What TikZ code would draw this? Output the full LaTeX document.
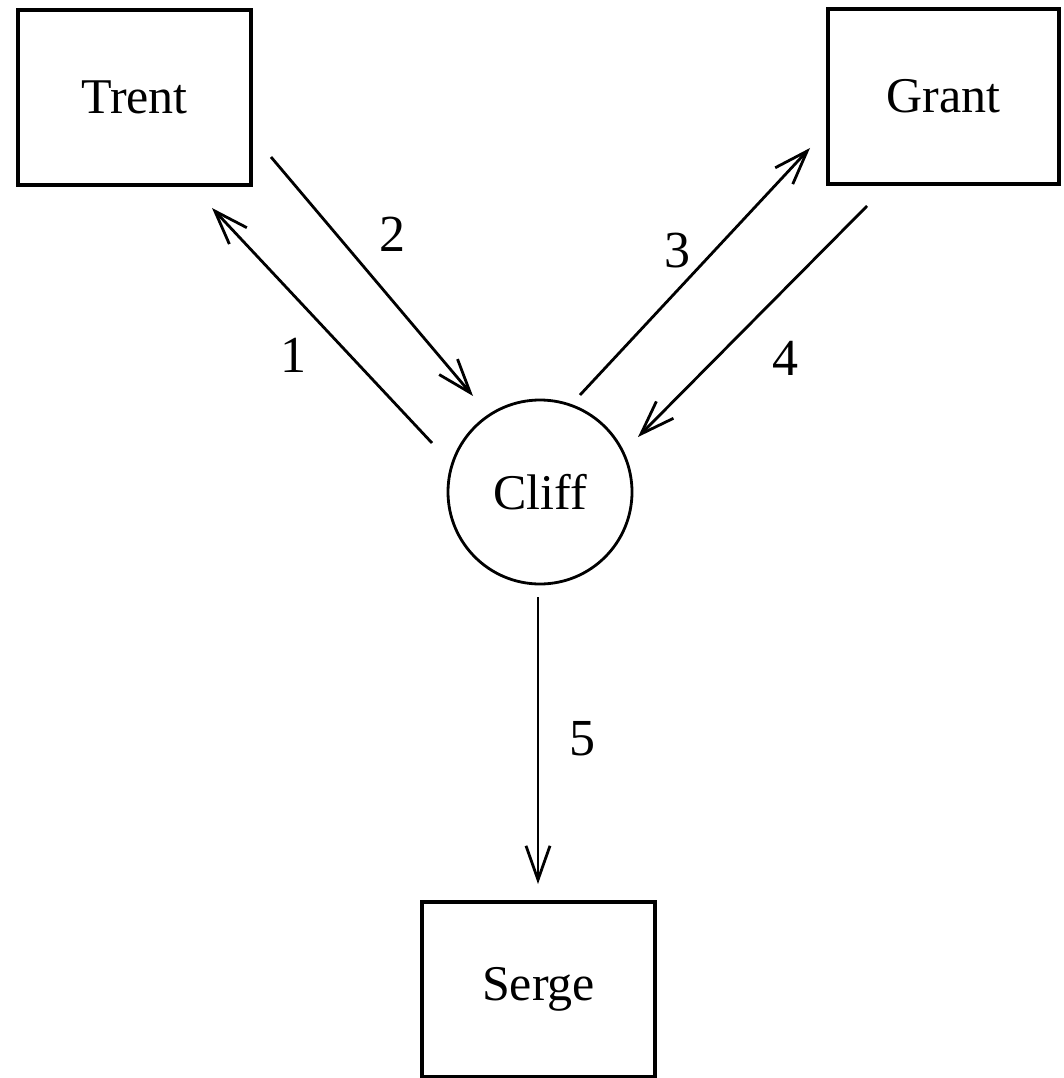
\documentclass[tikz,border=0pt]{standalone}
\usepackage{fontspec}
\setmainfont{Liberation Serif}
\usetikzlibrary{arrows.meta}
\begin{document}
\begin{tikzpicture}[x=1pt,y=-1pt,
  party/.style={draw,line width=3.4pt,minimum width=233pt,minimum height=175pt,font=\fontsize{50}{60}\selectfont,inner sep=0pt},
  hub/.style={draw,circle,line width=2.8pt,minimum size=184pt,font=\fontsize{50}{60}\selectfont,inner sep=0pt},
  msg/.style={line width=2.8pt,-{Straight Barb[length=34pt,width=24pt,line width=2.8pt]}},
  num/.style={font=\fontsize{52}{60}\selectfont,inner sep=0pt}]
\useasboundingbox (0,0) rectangle (1064,1078);
\node[party] (trent) at (134.5,97.5) {Trent};
\node[party,minimum width=231pt] (grant) at (943.5,96.5) {Grant};
\node[hub] (cliff) at (540,492) {Cliff};
\node[party] (serge) at (538.5,989.5) {Serge};
% connector end points
\coordinate (a1s) at (432,443); \coordinate (a1e) at (212,208);
\coordinate (a2s) at (271,157); \coordinate (a2e) at (473,396);
\coordinate (a3s) at (580,395); \coordinate (a3e) at (810,148);
\coordinate (a4s) at (867,206); \coordinate (a4e) at (638,437);
\coordinate (a5s) at (538,597); \coordinate (a5e) at (538,884);
\draw[msg] (a1s) -- (a1e);
\draw[msg] (a2s) -- (a2e);
\draw[msg] (a3s) -- (a3e);
\draw[msg] (a4s) -- (a4e);
\draw[msg,line width=1.8pt] (a5s) -- (a5e);
\node[num] (l1) at (293,355) {1};
\node[num] (l2) at (392,234) {2};
\node[num] (l3) at (677,251) {3};
\node[num] (l4) at (785,358) {4};
\node[num] (l5) at (582,739) {5};
\end{tikzpicture}
\end{document}
